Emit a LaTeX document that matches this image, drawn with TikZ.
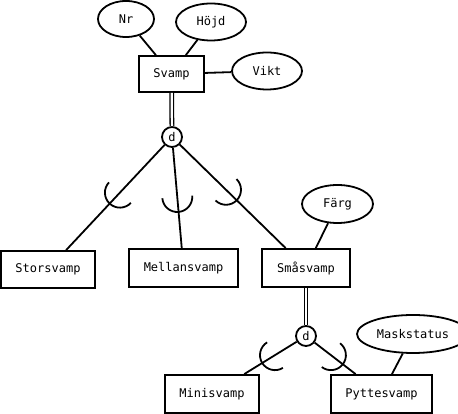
\documentclass[tikz,border=0pt]{standalone}
\usepackage{fontspec}
\setmonofont{DejaVu Sans Mono}
\usetikzlibrary{shapes.geometric}
\tikzset{
  base/.style={draw=black, line width=1.8pt, fill=white, font=\ttfamily\fontsize{12}{14}\selectfont, inner sep=0pt},
  entity/.style={base, rectangle},
  attr/.style={base, ellipse},
  disj/.style={base, circle, minimum size=20pt},
  conn/.style={draw=black, line width=1.8pt},
  total/.style={draw=black, line width=1.3pt, double=white, double distance=2.2pt},
  subset/.pic={\draw[line width=1.8pt] (0,15pt) arc[start angle=90, end angle=-90, radius=15pt];}
}
\begin{document}
\begin{tikzpicture}[x=1pt,y=1pt]
\useasboundingbox (0,0) rectangle (458,414);
\clip (0,0) rectangle (458,414);
% entities
\node[entity, minimum width=65pt, minimum height=36pt] (svamp) at (171.5,340) {Svamp};
\node[entity, minimum width=94pt, minimum height=37pt] (stor) at (48,144.5) {Storsvamp};
\node[entity, minimum width=109pt, minimum height=38pt] (mell) at (183.5,146) {Mellansvamp};
\node[entity, minimum width=88pt, minimum height=38pt] (sma) at (306,146) {Småsvamp};
\node[entity, minimum width=94pt, minimum height=38pt] (mini) at (212,20) {Minisvamp};
\node[entity, minimum width=101pt, minimum height=38pt] (pytte) at (381.5,20) {Pyttesvamp};
% attributes
\node[attr, minimum width=56pt, minimum height=36pt] (nr) at (126,395) {Nr};
\node[attr, minimum width=70pt, minimum height=37pt] (hojd) at (211,392) {Höjd};
\node[attr, minimum width=70pt, minimum height=37pt] (vikt) at (267,343) {Vikt};
\node[attr, minimum width=71pt, minimum height=38pt] (farg) at (337.5,210) {Färg};
\node[attr, minimum width=112pt, minimum height=38pt] (mask) at (413,80) {Maskstatus};
% disjoint circles
\node[disj] (d1) at (172,277) {d};
\node[disj] (d2) at (306,78) {d};
% attribute connectors
\draw[conn] (nr) -- (svamp);
\draw[conn] (hojd) -- (svamp);
\draw[conn] (vikt) -- (svamp);
\draw[conn] (farg) -- (sma);
\draw[conn] (mask) -- (pytte);
% total participation
\draw[total] (svamp) -- (d1);
\draw[total] (sma) -- (d2);
% specialisation connectors
\draw[conn] (d1) -- (stor);
\draw[conn] (d1) -- (mell);
\draw[conn] (d1) -- (sma);
\draw[conn] (d2) -- (mini);
\draw[conn] (d2) -- (pytte);
% subset symbols
\path (d1.center) -- pic[pos=0.42, sloped, allow upside down]{subset} (stor.center);
\path (d1.center) -- pic[pos=0.458, sloped, allow upside down]{subset} (mell.center);
\path (d1.center) -- pic[pos=0.403, sloped, allow upside down]{subset} (sma.center);
\path (d2.center) -- pic[pos=0.33, sloped, allow upside down]{subset} (mini.center);
\path (d2.center) -- pic[pos=0.33, sloped, allow upside down]{subset} (pytte.center);
\end{tikzpicture}
\end{document}
